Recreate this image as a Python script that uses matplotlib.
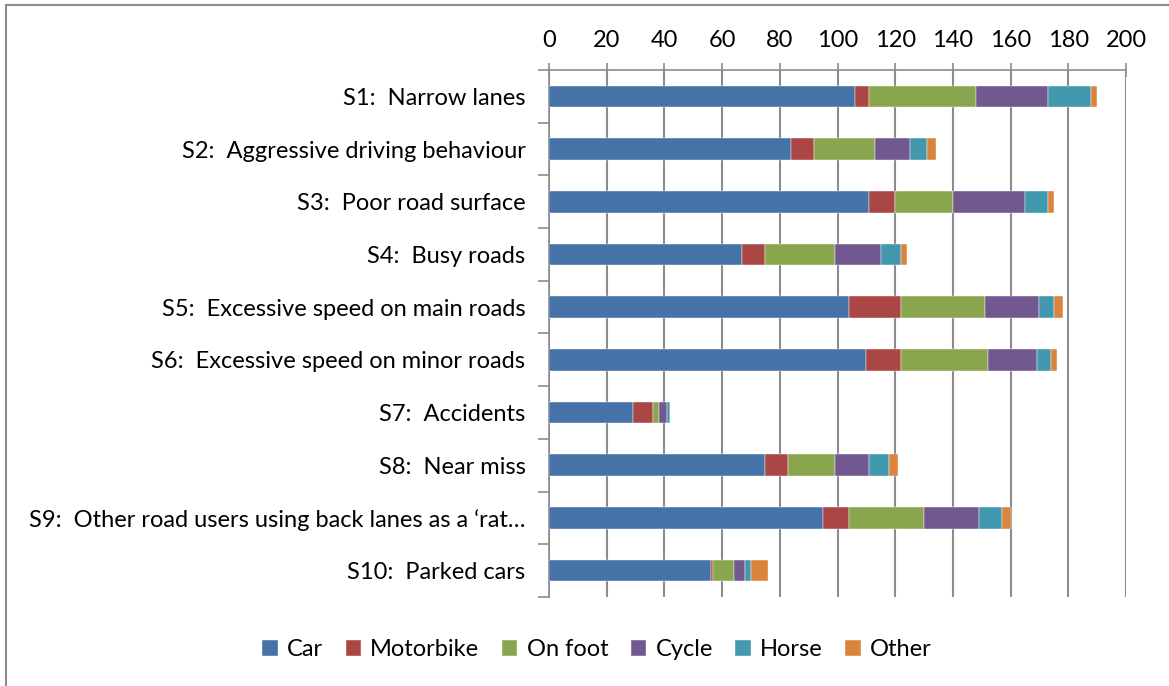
import matplotlib.pyplot as plt
import numpy as np
from matplotlib.patches import Rectangle

# Datos
categorias = ['S1:  Narrow lanes',
              'S2:  Aggressive driving behaviour',
              'S3:  Poor road surface',
              'S4:  Busy roads',
              'S5:  Excessive speed on main roads',
              'S6:  Excessive speed on minor roads',
              'S7:  Accidents',
              'S8:  Near miss',
              'S9:  Other road users using back lanes as a \u2018rat\u2026',
              'S10:  Parked cars']

car = [106, 84, 111, 67, 104, 110, 29, 75, 95, 56]
motorbike = [5, 8, 9, 8, 18, 12, 7, 8, 9, 1]
on_foot = [37, 21, 20, 24, 29, 30, 2, 16, 26, 7]
cycle = [25, 12, 25, 16, 19, 17, 3, 12, 19, 4]
horse = [15, 6, 8, 7, 5, 5, 1, 7, 8, 2]
other = [2, 3, 2, 2, 3, 2, 0, 3, 3, 6]

series = {'Car': car, 'Motorbike': motorbike, 'On foot': on_foot,
          'Cycle': cycle, 'Horse': horse, 'Other': other}
colores = ['#4572A7', '#AA4643', '#89A54E', '#71588F', '#4198AF', '#DB843D']

plt.rcParams['font.family'] = ['Lato', 'DejaVu Sans']

W, H = 1169, 686
fig = plt.figure(figsize=(W / 100, H / 100), dpi=100)
ax = fig.add_axes([549 / W, 1 - 597 / H, (1126 - 549) / W, (597 - 70) / H])

# marco exterior
fig.patches.append(Rectangle((6 / W, -0.05), 1.2, 1 - 5 / H + 0.05,
                             transform=fig.transFigure, fill=False,
                             edgecolor='#8c8c8c', linewidth=1.5))

y = np.arange(len(categorias))
izq = np.zeros(len(categorias))
for (nombre, vals), c in zip(series.items(), colores):
    ax.barh(y, vals, left=izq, height=0.41, color=c, label=nombre,
            edgecolor='white', linewidth=0.3, zorder=3)
    izq += np.array(vals)

ax.set_xlim(0, 200)
ax.set_ylim(len(categorias) - 0.5, -0.5)
ax.set_xticks(np.arange(0, 201, 20))
ax.xaxis.tick_top()
ax.tick_params(axis='x', direction='inout', length=10, width=1.2,
               color='#8c8c8c', labelsize=17, pad=9)
ax.grid(axis='x', color='#8c8c8c', linewidth=1.5, zorder=0)

# marcas del eje y entre categorias, etiquetas en el centro
ax.set_yticks(np.arange(-0.5, len(categorias), 1))
ax.set_yticklabels([])
ax.tick_params(axis='y', which='major', direction='out', length=8,
               width=1.2, color='#8c8c8c')
ax.set_yticks(y, minor=True)
ax.set_yticklabels(categorias, minor=True)
ax.tick_params(axis='y', which='minor', length=0, labelsize=17, pad=17)

for s in ['right', 'bottom']:
    ax.spines[s].set_visible(False)
ax.spines['top'].set_color('#8c8c8c')
ax.spines['top'].set_linewidth(1.2)
ax.spines['left'].set_color('#8c8c8c')
ax.spines['left'].set_linewidth(1.2)

fig.legend(loc='center', bbox_to_anchor=(597 / W, 1 - 650 / H), ncol=6,
           frameon=False, fontsize=17, handlelength=0.65, handleheight=0.65,
           handletextpad=0.4, columnspacing=0.95)

plt.savefig('out.png', dpi=100)
